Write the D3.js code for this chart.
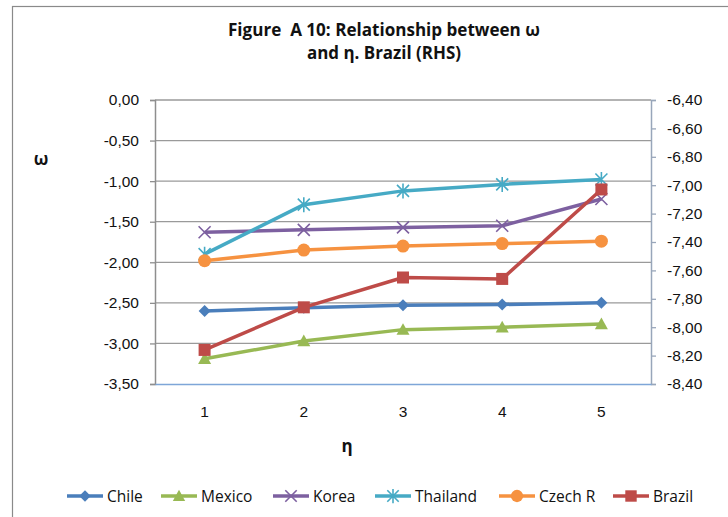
<!DOCTYPE html>
<html>
<head>
<meta charset="utf-8">
<script src="https://cdn.jsdelivr.net/npm/d3@7"></script>
<style>
  html, body { margin: 0; padding: 0; background: #fff; }
  svg { display: block; font-family: "Open Sans", "Noto Sans", sans-serif; }
</style>
</head>
<body>
<svg id="chart" width="728" height="517"></svg>
<script>
// η values on the category axis
const categories = ["1", "2", "3", "4", "5"];

// ω by country (left axis)
const chile    = [-2.60, -2.56, -2.53, -2.52, -2.50];
const mexico   = [-3.19, -2.97, -2.83, -2.80, -2.76];
const korea    = [-1.63, -1.60, -1.57, -1.55, -1.22];
const thailand = [-1.90, -1.29, -1.12, -1.04, -0.98];
const czech    = [-1.98, -1.85, -1.80, -1.77, -1.74];
// Brazil is plotted against the right-hand axis
const brazil   = [-8.16, -7.86, -7.65, -7.66, -7.03];

const leftTicks  = [0, -0.5, -1, -1.5, -2, -2.5, -3, -3.5];
const rightTicks = [-6.4, -6.6, -6.8, -7.0, -7.2, -7.4, -7.6, -7.8, -8.0, -8.2, -8.4];

const series = [
  { name: "Chile",    values: chile,    color: "#4A7EBB", marker: "diamond",  axis: "left" },
  { name: "Mexico",   values: mexico,   color: "#98B954", marker: "triangle", axis: "left" },
  { name: "Korea",    values: korea,    color: "#7D60A0", marker: "x",        axis: "left" },
  { name: "Thailand", values: thailand, color: "#46AAC5", marker: "star",     axis: "left" },
  { name: "Czech R",  values: czech,    color: "#F69240", marker: "circle",   axis: "left" },
  { name: "Brazil",   values: brazil,   color: "#BE4B48", marker: "square",   axis: "right" }
];

const svg = d3.select("#chart");
const plot = { left: 155, right: 651, top: 100, bottom: 384 };

// outer chart frame
svg.append("rect")
  .attr("x", 12.5).attr("y", 6.5)
  .attr("width", 740).attr("height", 540)
  .attr("fill", "#fff").attr("stroke", "#8a8a8a").attr("stroke-width", 1.2);

const x = d3.scaleBand().domain(categories).range([plot.left, plot.right]);
const yL = d3.scaleLinear().domain([-3.5, 0]).range([plot.bottom, plot.top]);
const yR = d3.scaleLinear().domain([-8.4, -6.4]).range([plot.bottom, plot.top]);
const fmt = v => d3.format(".2f")(v).replace(".", ",").replace("−", "-");

// horizontal gridlines
svg.append("g").selectAll("line").data(leftTicks.slice(0, -1)).join("line")
  .attr("x1", plot.left).attr("x2", plot.right)
  .attr("y1", d => yL(d)).attr("y2", d => yL(d))
  .attr("stroke", "#9a9a9a").attr("stroke-width", 1.3);

// left axis
const gL = svg.append("g").attr("transform", `translate(${plot.left},0)`)
  .call(d3.axisLeft(yL).tickValues(leftTicks).tickFormat(fmt).tickSize(5).tickPadding(11));
gL.select(".domain").attr("stroke", "#8e8e8e").attr("stroke-width", 1.5);
gL.selectAll(".tick line").attr("stroke", "#8e8e8e").attr("stroke-width", 1.3);
gL.selectAll(".tick text").attr("font-size", 15.5).attr("fill", "#111").attr("font-family", null);

// right axis
const gR = svg.append("g").attr("transform", `translate(${plot.right},0)`)
  .call(d3.axisRight(yR).tickValues(rightTicks).tickFormat(fmt).tickSize(5).tickPadding(11));
gR.select(".domain").attr("stroke", "#98a6ba").attr("stroke-width", 1.5);
gR.selectAll(".tick line").attr("stroke", "#98a6ba").attr("stroke-width", 1.3);
gR.selectAll(".tick text").attr("font-size", 15.5).attr("fill", "#111").attr("font-family", null);

// category axis
const gB = svg.append("g").attr("transform", `translate(0,${plot.bottom})`)
  .call(d3.axisBottom(x).tickSize(0).tickPadding(22));
gB.select(".domain").attr("stroke", "#7ea6d8").attr("stroke-width", 1.5);
gB.selectAll(".tick text").attr("font-size", 15.5).attr("fill", "#111").attr("font-family", null);

// marker shapes
function drawMarker(g, type, color, s) {
  switch (type) {
    case "diamond":
      g.append("path").attr("d", `M0,${-s}L${s},0L0,${s}L${-s},0Z`).attr("fill", color);
      break;
    case "triangle":
      g.append("path").attr("d", `M0,${-s}L${s},${s * 0.8}L${-s},${s * 0.8}Z`).attr("fill", color);
      break;
    case "square":
      g.append("rect").attr("x", -s).attr("y", -s).attr("width", 2 * s).attr("height", 2 * s).attr("fill", color);
      break;
    case "circle":
      g.append("circle").attr("r", s).attr("fill", color);
      break;
    case "x":
      g.append("path").attr("d", `M${-s},${-s}L${s},${s}M${-s},${s}L${s},${-s}`)
        .attr("stroke", color).attr("stroke-width", 1.6).attr("fill", "none");
      break;
    case "star":
      g.append("path").attr("d", `M${-s},${-s}L${s},${s}M${-s},${s}L${s},${-s}M0,${-s * 1.25}L0,${s * 1.25}`)
        .attr("stroke", color).attr("stroke-width", 1.6).attr("fill", "none");
      break;
  }
}
const markerSize = { diamond: 6, triangle: 6.5, square: 6, circle: 6.5, x: 6, star: 6 };

const cx = c => x(c) + x.bandwidth() / 2;
const lineGen = yScale => d3.line().x((d, i) => cx(categories[i])).y(d => yScale(d));

series.forEach(s => {
  const yScale = s.axis === "left" ? yL : yR;
  const g = svg.append("g");
  g.append("path").datum(s.values)
    .attr("d", lineGen(yScale))
    .attr("fill", "none").attr("stroke", s.color).attr("stroke-width", 3.5)
    .attr("stroke-linejoin", "round");
  s.values.forEach((v, i) => {
    const m = g.append("g").attr("transform", `translate(${cx(categories[i])},${yScale(v)})`);
    drawMarker(m, s.marker, s.color, markerSize[s.marker]);
  });
});

// title
const title = svg.append("text").attr("text-anchor", "middle")
  .attr("font-weight", "bold").attr("font-size", 17).attr("fill", "#111")
  .style("white-space", "pre");
title.append("tspan").attr("x", 384).attr("y", 36)
  .attr("textLength", 312).attr("lengthAdjust", "spacingAndGlyphs")
  .text("Figure  A 10: Relationship between ω");
title.append("tspan").attr("x", 384).attr("y", 59)
  .attr("textLength", 154).attr("lengthAdjust", "spacingAndGlyphs")
  .text("and η. Brazil (RHS)");

// axis titles
svg.append("text").attr("x", 41).attr("y", 165).attr("text-anchor", "middle")
  .attr("font-weight", "bold").attr("font-size", 17).attr("fill", "#111").text("ω");
svg.append("text").attr("x", 347).attr("y", 452).attr("text-anchor", "middle")
  .attr("font-weight", "bold").attr("font-size", 17).attr("fill", "#111").text("η");

// legend
const legendX = [67, 161, 273, 375, 499, 613];
const legend = svg.append("g").attr("transform", "translate(0,496)");
series.forEach((s, i) => {
  const g = legend.append("g").attr("transform", `translate(${legendX[i]},0)`);
  g.append("line").attr("x1", 0).attr("x2", 36).attr("y1", 0).attr("y2", 0)
    .attr("stroke", s.color).attr("stroke-width", 3.5);
  const m = g.append("g").attr("transform", "translate(18,0)");
  drawMarker(m, s.marker, s.color, markerSize[s.marker] * 0.95);
  g.append("text").attr("x", 40).attr("y", 5.5).attr("font-size", 15.5).attr("fill", "#111").text(s.name);
});
</script>
</body>
</html>
